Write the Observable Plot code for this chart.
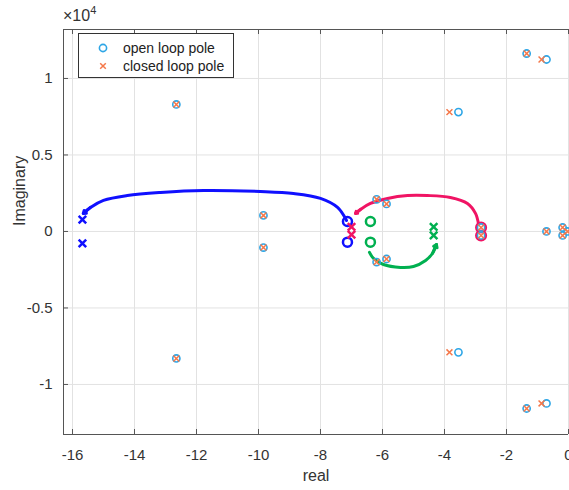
<!DOCTYPE html>
<html><head><meta charset="utf-8">
<script src="https://cdn.jsdelivr.net/npm/d3@7"></script>
<script src="https://cdn.jsdelivr.net/npm/@observablehq/plot@0.6"></script>
<style>
body{margin:0;background:#fff;font-family:"Liberation Sans",Arial,sans-serif;}
#wrap{position:relative;width:569px;height:490px;overflow:hidden;}
#legend{position:absolute;left:78px;top:33px;width:154px;height:43px;border:1px solid #333;background:#fff;font-size:14px;color:#222;}
#legend .row{position:absolute;left:0;height:18px;line-height:18px;white-space:nowrap;}
#legend svg{position:absolute;left:18px;top:2px;}
#legend span{position:absolute;left:44px;top:0;}
#exp{position:absolute;left:63px;top:6px;font-size:16px;line-height:20px;color:#333;}
#exp sup{font-size:11px;vertical-align:7px;line-height:0;}
</style></head><body><div id="wrap"></div><script>
// Tick values
const xTicks = [-16, -14, -12, -10, -8, -6, -4, -2, 0];
const yTicks = [-1, -0.5, 0, 0.5, 1];            // ×10^4
const xDomain = [-16.29, 0];
const yDomain = [-1.327, 1.32];

// Open loop poles (real, imaginary ×10^4)
const openRe = [-12.65, -12.65, -9.84, -9.84, -6.19, -6.19, -5.87, -5.87, -2.82, -2.82, -3.55, -3.55, -1.35, -1.35, -0.71, -0.71, -0.71, -0.19, -0.19, -0.03];
const openIm = [0.83, -0.83, 0.105, -0.105, 0.21, -0.20, 0.18, -0.18, 0.026, -0.026, 0.78, -0.79, 1.163, -1.157, 1.124, -1.124, 0, 0.026, -0.026, 0];
// Closed loop poles
const closedRe = [-12.65, -12.65, -9.84, -9.84, -6.19, -6.19, -5.87, -5.87, -2.82, -2.82, -3.84, -3.84, -1.35, -1.35, -0.87, -0.87, -0.71, -0.19, -0.19, -0.03];
const closedIm = [0.83, -0.83, 0.105, -0.105, 0.21, -0.20, 0.18, -0.18, 0.026, -0.026, 0.78, -0.79, 1.163, -1.157, 1.124, -1.124, 0, 0.026, -0.026, 0];

// Highlighted loci: start circles and end crosses
const blueStartRe = [-7.13, -7.13], blueStartIm = [0.065, -0.07];
const blueEndRe = [-15.68, -15.68], blueEndIm = [0.078, -0.078];
const pinkStartRe = [-2.82, -2.82], pinkStartIm = [0.026, -0.026];
const pinkEndRe = [-7.0, -7.0], pinkEndIm = [0.03, -0.02];
const greenStartRe = [-6.39, -6.39], greenStartIm = [0.065, -0.07];
const greenEndRe = [-4.35, -4.35], greenEndIm = [0.03, -0.025];

// Locus arcs
const blueArcRe = [-7.16, -7.45, -8.0, -8.87, -9.94, -11.77, -13.16, -14.23, -15.0, -15.42, -15.65];
const blueArcIm = [0.072, 0.157, 0.216, 0.248, 0.261, 0.268, 0.255, 0.235, 0.203, 0.157, 0.118];
const pinkArcRe = [-2.90, -3.0, -3.26, -3.81, -4.55, -5.19, -5.84, -6.39, -6.71, -6.87];
const pinkArcIm = [0.046, 0.118, 0.183, 0.222, 0.235, 0.235, 0.216, 0.183, 0.144, 0.118];
const greenArcRe = [-6.42, -6.29, -5.97, -5.42, -5.0, -4.61, -4.39, -4.26];
const greenArcIm = [-0.137, -0.176, -0.216, -0.235, -0.229, -0.190, -0.144, -0.085];

const zip = (re, im) => re.map((r, i) => ({re: r, im: im[i]}));
const lastSeg = (re, im) => { const n = re.length; return [{x1: re[n-2], y1: im[n-2], x2: re[n-1], y2: im[n-1]}]; };

const BLUE = "#1010ff", PINK = "#f01464", GREEN = "#00b050";
const OPEN = "#2ea6e6", CLOSED = "#f5784a";

function arc(re, im, color) {
  return [
    Plot.line(zip(re, im), {x: "re", y: "im", stroke: color, strokeWidth: 3, curve: "catmull-rom"}),
    Plot.arrow(lastSeg(re, im), {x1: "x1", y1: "y1", x2: "x2", y2: "y2", stroke: color, strokeWidth: 3, headLength: 11, headAngle: 70})
  ];
}
function circles(re, im, color, r, sw) {
  return Plot.dot(zip(re, im), {x: "re", y: "im", r, stroke: color, strokeWidth: sw, fill: "none"});
}
function crosses(re, im, color, r, sw) {
  return Plot.dot(zip(re, im), {x: "re", y: "im", r, symbol: "times", stroke: color, strokeWidth: sw, fill: "none"});
}

const plot = Plot.plot({
  width: 569, height: 490,
  marginLeft: 63, marginRight: 1, marginTop: 29, marginBottom: 56,
  x: {domain: xDomain, label: null},
  y: {domain: yDomain, label: null},
  style: {fontFamily: '"Liberation Sans",Arial,sans-serif', fontSize: "15px", color: "#333", background: "white", overflow: "visible"},
  marks: [
    Plot.gridX(xTicks, {stroke: "#e2e2e2", strokeOpacity: 1, strokeWidth: 1}),
    Plot.gridY(yTicks, {stroke: "#e2e2e2", strokeOpacity: 1, strokeWidth: 1}),
    Plot.ruleX([xDomain[0]], {stroke: "#555"}),
    Plot.ruleY([yDomain[0], yDomain[1]], {stroke: "#555"}),
    Plot.tickX(xTicks, {x: d => d, insetTop: 400, stroke: "#555"}),
    Plot.tickX(xTicks, {x: d => d, insetBottom: 400, stroke: "#555"}),
    Plot.tickY(yTicks, {y: d => d, insetRight: 500, stroke: "#555"}),
    Plot.axisX(xTicks, {anchor: "bottom", tickSize: 0, tickPadding: 15, tickFormat: d => String(d), label: null}),
    Plot.axisY(yTicks, {anchor: "left", tickSize: 0, tickPadding: 11, tickFormat: d => String(d), label: null}),
    Plot.text(["real"], {frameAnchor: "bottom", dy: 46, fontSize: 16, fill: "#333"}),
    Plot.text(["Imaginary"], {frameAnchor: "left", dx: -44, dy: -6, rotate: -90, fontSize: 16, fill: "#333"}),
    ...arc(blueArcRe, blueArcIm, BLUE),
    ...arc(pinkArcRe, pinkArcIm, PINK),
    ...arc(greenArcRe, greenArcIm, GREEN),
    circles(blueStartRe, blueStartIm, BLUE, 4.5, 2.5),
    crosses(blueEndRe, blueEndIm, BLUE, 3.5, 2.5),
    circles(pinkStartRe, pinkStartIm, PINK, 4.8, 2.5),
    crosses(pinkEndRe, pinkEndIm, PINK, 3.5, 2.5),
    circles(greenStartRe, greenStartIm, GREEN, 4.5, 2.5),
    crosses(greenEndRe, greenEndIm, GREEN, 3.5, 2.5),
    circles(openRe, openIm, OPEN, 3.6, 1.6),
    crosses(closedRe, closedIm, CLOSED, 2.8, 1.5)
  ]
});

const wrap = document.getElementById("wrap");
wrap.appendChild(plot);
const exp = document.createElement("div");
exp.id = "exp";
exp.innerHTML = "×10<sup>4</sup>";
wrap.appendChild(exp);
const legend = document.createElement("div");
legend.id = "legend";
legend.innerHTML = `
<div class="row" style="top:5px;width:154px"><svg width="12" height="14"><circle cx="6" cy="7" r="3.6" fill="none" stroke="${OPEN}" stroke-width="1.6"/></svg><span>open loop pole</span></div>
<div class="row" style="top:23px;width:154px"><svg width="12" height="14"><path d="M3.2,4.2L8.8,9.8M8.8,4.2L3.2,9.8" stroke="${CLOSED}" stroke-width="1.5"/></svg><span>closed loop pole</span></div>`;
wrap.appendChild(legend);
</script></body></html>
